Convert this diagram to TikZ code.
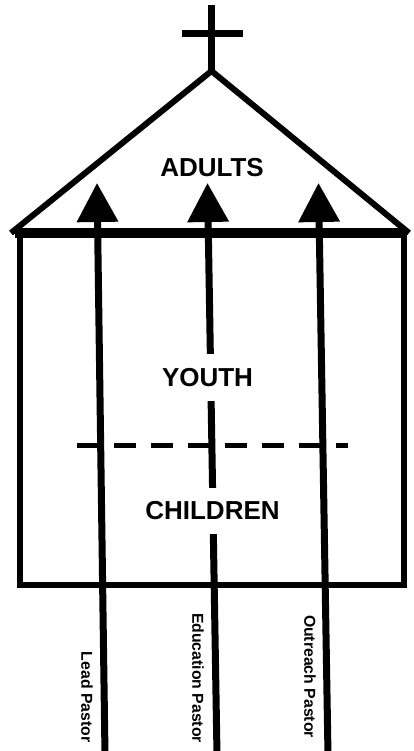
\documentclass[tikz,border=0pt]{standalone}
\usepackage{fontspec}
\setmainfont{Liberation Sans}
\usetikzlibrary{arrows.meta}
\tikzset{
  heavy/.style={line width=6pt, line join=miter},
  beam/.style={line width=10pt},
  wall/.style={line width=6.5pt},
  crossbar/.style={line width=7pt},
  arr/.style={line width=7pt, -{Triangle[width=40pt,length=39pt]}},
  divider/.style={line width=5pt, dash pattern=on 22pt off 15pt},
  zone/.style={font=\bfseries\fontsize{26}{28}\selectfont, inner xsep=4pt, inner ysep=0pt},
  zonebg/.style={zone, fill=white, inner ysep=14pt},
  role/.style={font=\bfseries\fontsize{15.8}{17}\selectfont, rotate=-90, inner sep=0pt}
}
\begin{document}
\begin{tikzpicture}[x=1pt,y=-1pt]
\useasboundingbox (0,0) rectangle (413,751);
% cross
\coordinate (ctop) at (211.5,5);
\coordinate (apex) at (211.5,71);
\coordinate (cl) at (182,33.5);
\coordinate (cr) at (243,33.5);
\draw[crossbar] (ctop) -- (apex);
\draw[crossbar] (cl) -- (cr);
% roof
\coordinate (rl) at (11,233);
\coordinate (rr) at (409,233);
\draw[heavy] (rl) -- (apex) -- (rr);
% beam and walls
\coordinate (bl) at (15,233);
\coordinate (br) at (406,233);
\coordinate (wl) at (20,233);
\coordinate (wr) at (404,233);
\coordinate (fl) at (20,585);
\coordinate (fr) at (404,585);
\draw[wall, line join=miter] (wl) -- (fl) -- (fr) -- (wr);
\draw[beam] (bl) -- (br);
% arrows
\coordinate (a1s) at (105,755);
\coordinate (a1e) at (97,183);
\coordinate (a2s) at (217,755);
\coordinate (a2e) at (207.5,183);
\coordinate (a3s) at (328,755);
\coordinate (a3e) at (318.5,183);
\draw[arr] (a1s) -- (a1e);
\draw[arr] (a2s) -- (a2e);
\draw[arr] (a3s) -- (a3e);
% divider
\coordinate (dl) at (77,445);
\coordinate (dr) at (348,445);
\draw[divider] (dl) -- (dr);
% zones
\node[zone] (adults) at (212,167.5) {ADULTS};
\node[zonebg] (youth) at (207.5,377.5) {YOUTH};
\node[zonebg] (children) at (212.5,511) {CHILDREN};
% roles
\node[role] (lead) at (87,697) {Lead Pastor};
\node[role] (edu) at (198,678) {Education Pastor};
\node[role] (out) at (310,676.5) {Outreach Pastor};
\end{tikzpicture}
\end{document}
